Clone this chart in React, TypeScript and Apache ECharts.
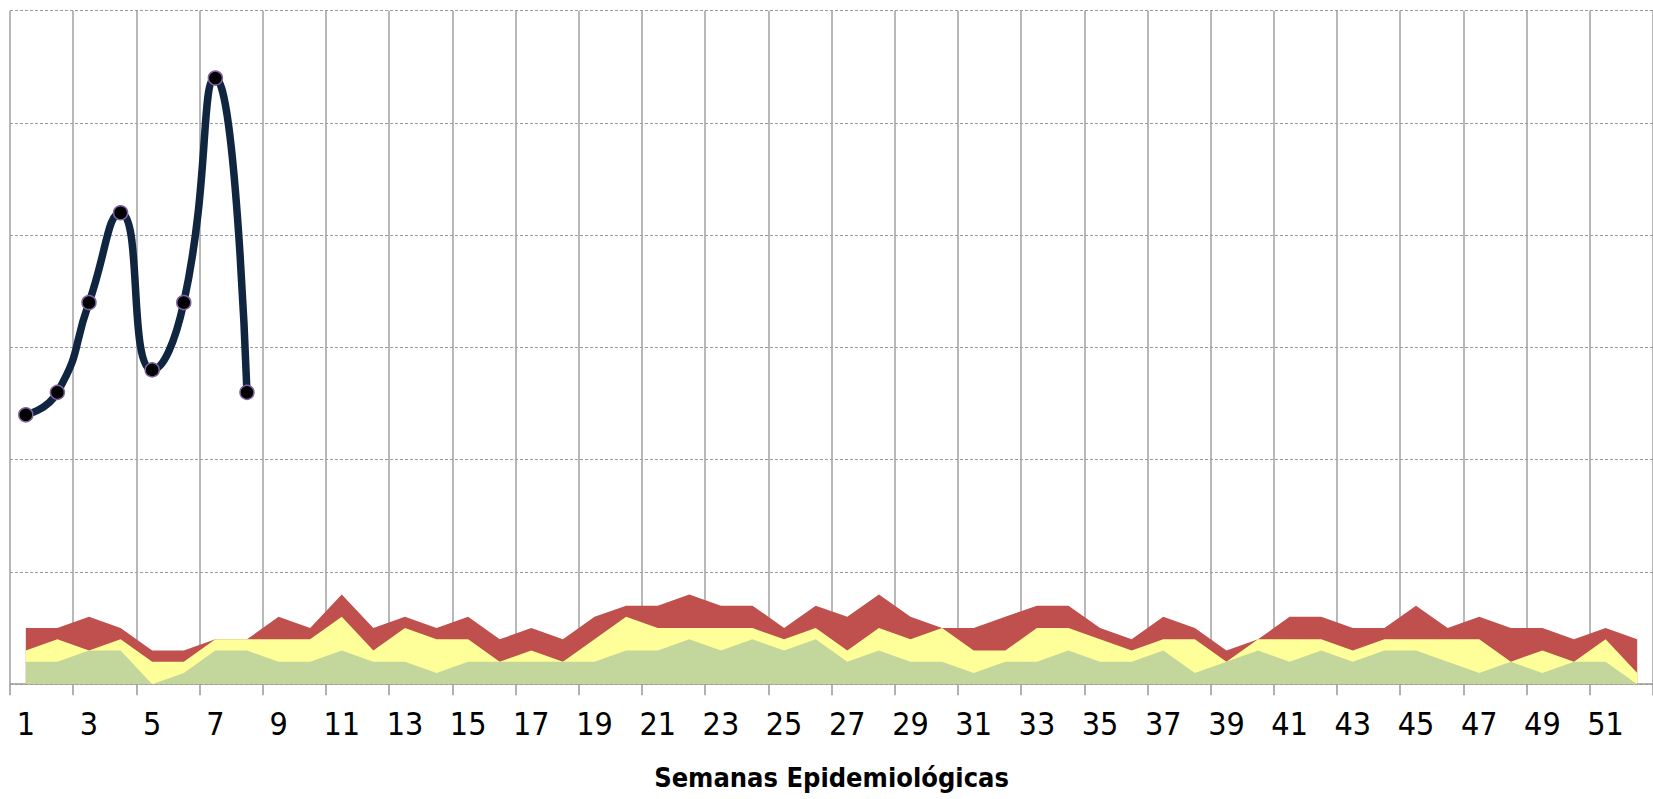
import React, { useEffect, useRef } from "react";
import * as echarts from "echarts";

// Weeks 1..52
const weeks: string[] = Array.from({ length: 52 }, (_, i) => String(i + 1));

// Endemic channel zone upper limits (cumulative values)
const exito: number[] = [
  2, 2, 3, 3, 0, 1, 3, 3, 2, 2, 3, 2, 2, 1, 2, 2, 2,
  2, 2, 3, 3, 4, 3, 4, 3, 4, 2, 3, 2, 2, 1, 2, 2, 3,
  2, 2, 3, 1, 2, 3, 2, 3, 2, 3, 3, 2, 1, 2, 1, 2, 2, 0,
];
const seguridad: number[] = [
  3, 4, 3, 4, 2, 2, 4, 4, 4, 4, 6, 3, 5, 4, 4, 2, 3,
  2, 4, 6, 5, 5, 5, 5, 4, 5, 3, 5, 4, 5, 3, 3, 5, 5,
  4, 3, 4, 4, 2, 4, 4, 4, 3, 4, 4, 4, 4, 2, 3, 2, 4, 1,
];
const alarma: number[] = [
  5, 5, 6, 5, 3, 3, 4, 4, 6, 5, 8, 5, 6, 5, 6, 4, 5,
  4, 6, 7, 7, 8, 7, 7, 5, 7, 6, 8, 6, 5, 5, 6, 7, 7,
  5, 4, 6, 5, 3, 4, 6, 6, 5, 5, 7, 5, 6, 5, 5, 4, 5, 4,
];

// Current-year cases (weeks 1..8)
const casos: number[] = [24, 26, 34, 42, 28, 34, 54, 26];

const yMin = 0;
const yMax = 60;
const yInterval = 10;

const labelFont = "'Liberation Sans Narrow', 'DejaVu Sans Condensed', 'Roboto Condensed', sans-serif";

export default function App() {
  const ref = useRef<HTMLDivElement>(null);

  useEffect(() => {
    if (!ref.current) return;
    const chart = echarts.init(ref.current, undefined, { renderer: "svg" });

    const areaSeries = (name: string, data: number[], color: string, z: number) => ({
      name,
      type: "line",
      data,
      symbol: "none",
      lineStyle: { width: 0 },
      areaStyle: { color, opacity: 1 },
      itemStyle: { color },
      z,
    });

    chart.setOption({
      animation: false,
      backgroundColor: "#ffffff",
      grid: { left: 10, top: 10.7, width: 1651, height: 673.5, containLabel: false },
      xAxis: {
        type: "category",
        data: weeks,
        boundaryGap: true,
        name: "Semanas Epidemiológicas",
        nameLocation: "middle",
        nameGap: 80,
        nameTextStyle: {
          fontFamily: labelFont,
          fontWeight: "bold",
          fontSize: 27,
          color: "#000",
        },
        axisLine: { show: true, lineStyle: { color: "#999999", width: 1.5 } },
        axisTick: {
          show: true,
          interval: 1,
          length: 11,
          lineStyle: { color: "#999999", width: 1.5 },
        },
        axisLabel: {
          interval: 1,
          margin: 24,
          fontFamily: labelFont,
          fontSize: 32,
          color: "#000",
        },
        splitLine: {
          show: true,
          interval: 1,
          lineStyle: { color: "#a0a0a0", width: 1.5, type: "solid" },
        },
      },
      yAxis: {
        type: "value",
        min: yMin,
        max: yMax,
        interval: yInterval,
        axisLine: { show: false },
        axisTick: { show: false },
        axisLabel: { show: false },
        splitLine: {
          show: true,
          lineStyle: { color: "#9a9a9a", width: 1, type: [3, 2] },
        },
      },
      series: [
        areaSeries("Alarma", alarma, "#C0504D", 1),
        areaSeries("Seguridad", seguridad, "#FFFF99", 2),
        areaSeries("Éxito", exito, "#C3D69B", 3),
        {
          name: "Casos",
          type: "line",
          data: casos,
          smooth: 0.55,
          symbol: "circle",
          symbolSize: 14,
          lineStyle: { color: "#10253F", width: 7.5 },
          itemStyle: { color: "#000000", borderColor: "#8064A2", borderWidth: 1.5 },
          z: 5,
        },
      ],
    });

    return () => chart.dispose();
  }, []);

  return (
    <div
      ref={ref}
      style={{ position: "fixed", left: 0, top: 0, width: 1653, height: 799, background: "#fff" }}
    />
  );
}
